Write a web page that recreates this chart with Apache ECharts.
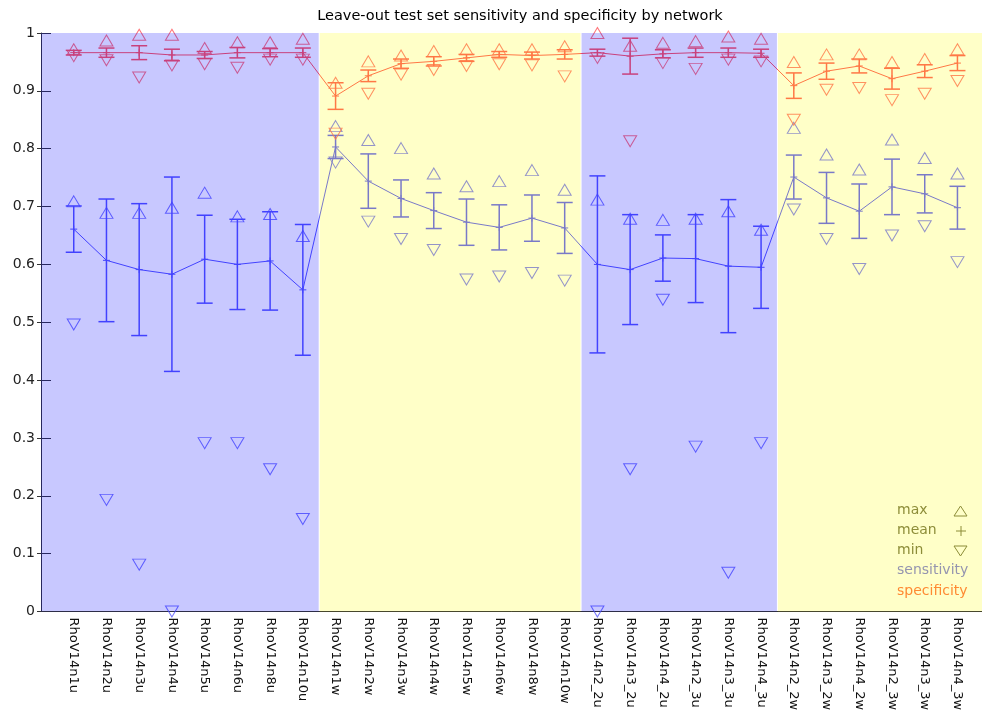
<!DOCTYPE html>
<html>
<head>
<meta charset="utf-8">
<script src="https://cdn.jsdelivr.net/npm/echarts@6/dist/echarts.min.js"></script>
<style>
  html, body { margin: 0; padding: 0; background: #ffffff; }
  #chart { width: 982px; height: 722px; }
</style>
</head>
<body>
<div id="chart"></div>
<script>
// Networks on the x axis
const networks = ['RhoV14n1u','RhoV14n2u','RhoV14n3u','RhoV14n4u','RhoV14n5u','RhoV14n6u','RhoV14n8u','RhoV14n10u',
  'RhoV14n1w','RhoV14n2w','RhoV14n3w','RhoV14n4w','RhoV14n5w','RhoV14n6w','RhoV14n8w','RhoV14n10w',
  'RhoV14n2_2u','RhoV14n3_2u','RhoV14n4_2u','RhoV14n2_3u','RhoV14n3_3u','RhoV14n4_3u',
  'RhoV14n2_2w','RhoV14n3_2w','RhoV14n4_2w','RhoV14n2_3w','RhoV14n3_3w','RhoV14n4_3w'];

// Sensitivity: mean, standard deviation, max and min over the leave-out runs
const sensMean = [0.661,0.607,0.591,0.583,0.609,0.600,0.606,0.556, 0.803,0.744,0.714,0.693,0.673,0.664,0.680,0.663,
  0.600,0.591,0.611,0.610,0.597,0.595, 0.751,0.715,0.692,0.734,0.722,0.698];
const sensStd = [0.040,0.106,0.114,0.168,0.076,0.078,0.085,0.113, 0.020,0.047,0.032,0.031,0.040,0.039,0.040,0.044,
  0.153,0.095,0.040,0.076,0.115,0.071, 0.038,0.044,0.047,0.048,0.033,0.037];
const sensMax = [0.709,0.689,0.689,0.698,0.724,0.683,0.687,0.649, 0.839,0.815,0.801,0.757,0.735,0.744,0.763,0.729,
  0.712,0.679,0.677,0.679,0.692,0.660, 0.836,0.790,0.764,0.816,0.784,0.757];
const sensMin = [0.496,0.193,0.081,0.000,0.291,0.291,0.246,0.160, 0.776,0.674,0.644,0.625,0.574,0.579,0.585,0.572,
  0.000,0.246,0.539,0.285,0.067,0.291, 0.695,0.644,0.592,0.650,0.666,0.604];

// Specificity: mean, standard deviation, max and min
const specMean = [0.966,0.966,0.966,0.962,0.962,0.966,0.966,0.966, 0.891,0.926,0.947,0.951,0.957,0.963,0.961,0.963,
  0.966,0.960,0.964,0.966,0.966,0.965, 0.909,0.934,0.943,0.921,0.934,0.948];
const specStd = [0.004,0.008,0.012,0.010,0.006,0.009,0.007,0.008, 0.023,0.010,0.008,0.008,0.006,0.005,0.006,0.008,
  0.006,0.031,0.007,0.008,0.008,0.007, 0.022,0.014,0.012,0.018,0.011,0.013];
const specMax = [0.972,0.987,0.997,0.997,0.974,0.984,0.984,0.990, 0.914,0.951,0.961,0.969,0.972,0.972,0.972,0.977,
  1.000,0.978,0.983,0.986,0.994,0.990, 0.950,0.963,0.963,0.950,0.955,0.972];
const specMin = [0.960,0.953,0.923,0.944,0.946,0.940,0.954,0.954, 0.826,0.895,0.928,0.936,0.943,0.946,0.944,0.925,
  0.957,0.813,0.948,0.938,0.954,0.951, 0.850,0.902,0.905,0.884,0.895,0.917];

// Shaded groups: [from, to, kind] with kind 0 = u-networks (blue), 1 = w-networks (yellow)
const X_MAX = 28.75;
const groups = [[0, 8.5, 0], [8.5, 16.5, 1], [16.5, 22.5, 0], [22.5, X_MAX, 1]];

const yTicks = [0, 0.1, 0.2, 0.3, 0.4, 0.5, 0.6, 0.7, 0.8, 0.9, 1];

const SENS = '#5555ff';
const SPEC = '#ff5359';
const FONT = 'DejaVu Sans';

const pts = arr => arr.map((v, i) => [i + 1, v]);
const errData = (m, s) => m.map((v, i) => [i + 1, v, s[i]]);

function errorBars(color) {
  return function (params, api) {
    const x = api.value(0), m = api.value(1), s = api.value(2);
    const hi = api.coord([x, m + s]);
    const lo = api.coord([x, m - s]);
    const hw = 8;
    const st = { stroke: color, lineWidth: 1.5 };
    return {
      type: 'group',
      children: [
        { type: 'line', shape: { x1: hi[0], y1: hi[1], x2: lo[0], y2: lo[1] }, style: st },
        { type: 'line', shape: { x1: hi[0] - hw, y1: hi[1], x2: hi[0] + hw, y2: hi[1] }, style: st },
        { type: 'line', shape: { x1: lo[0] - hw, y1: lo[1], x2: lo[0] + hw, y2: lo[1] }, style: st }
      ]
    };
  };
}

const PLUS = 'path://M0,5L10,5M5,0L5,10';

function triSeries(name, data, color, down) {
  return {
    name, type: 'scatter', data: pts(data),
    symbol: 'triangle', symbolSize: [13, 11], symbolRotate: down ? 180 : 0,
    itemStyle: { color: 'transparent', borderColor: color, borderWidth: 1 },
    z: 4, silent: true
  };
}

function meanSeries(name, data, color) {
  return {
    name, type: 'line', data: pts(data),
    symbol: PLUS, symbolSize: 7, showAllSymbol: true,
    lineStyle: { color, width: 1 },
    itemStyle: { color, borderColor: color, borderWidth: 1 },
    z: 3, silent: true, animation: false
  };
}

const chart = echarts.init(document.getElementById('chart'));
chart.setOption({
  animation: false,
  backgroundColor: '#ffffff',
  title: {
    text: 'Leave-out test set sensitivity and specificity by network',
    left: 515, top: 4, textAlign: 'center',
    textStyle: { fontFamily: FONT, fontSize: 14.5, fontWeight: 'normal', color: '#000' }
  },
  grid: { left: 41, right: 0, top: 33, bottom: 110.5 },
  xAxis: [{
    type: 'value', min: 0, max: X_MAX, interval: 1, position: 'bottom',
    axisLine: { show: true, lineStyle: { color: '#333', width: 1 } },
    axisTick: { show: false },
    splitLine: { show: false },
    axisLabel: {
      rotate: -90, margin: 6, fontFamily: FONT, fontSize: 13, color: '#111',
      showMaxLabel: false,
      formatter: v => networks[v - 1] || ''
    }
  }, {
    type: 'value', min: 0, max: X_MAX, position: 'top',
    axisLine: { show: true, lineStyle: { color: '#333', width: 1 } },
    axisTick: { show: false }, axisLabel: { show: false }, splitLine: { show: false }
  }],
  yAxis: [{
    type: 'value', min: 0, max: 1, interval: 0.1,
    axisLine: { show: true, lineStyle: { color: '#333', width: 1 } },
    axisTick: { show: true, inside: true, length: 10, lineStyle: { color: '#333' } },
    splitLine: { show: false },
    axisLabel: {
      margin: 6, fontFamily: FONT, fontSize: 14, color: '#222',
      formatter: v => String(yTicks[Math.round(v * 10)])
    }
  }, {
    type: 'value', min: 0, max: 1, interval: 0.1, position: 'right',
    axisLine: { show: false },
    axisTick: { show: true, inside: true, length: 4, lineStyle: { color: '#333' } },
    axisLabel: { show: false }, splitLine: { show: false }
  }],
  series: [
    {
      name: 'sensitivity error', type: 'custom', data: errData(sensMean, sensStd),
      encode: { x: 0, y: 1 }, renderItem: errorBars(SENS), z: 2, silent: true
    },
    {
      name: 'specificity error', type: 'custom', data: errData(specMean, specStd),
      encode: { x: 0, y: 1 }, renderItem: errorBars(SPEC), z: 2, silent: true
    },
    meanSeries('sensitivity mean', sensMean, SENS),
    meanSeries('specificity mean', specMean, SPEC),
    triSeries('sensitivity max', sensMax, SENS, false),
    triSeries('sensitivity min', sensMin, SENS, true),
    triSeries('specificity max', specMax, SPEC, false),
    triSeries('specificity min', specMin, SPEC, true),
    {
      // translucent group shading laid over the data
      name: 'groups', type: 'custom', data: groups, silent: true, z: 10,
      encode: { x: [0, 1] },
      renderItem: function (params, api) {
        const a = api.coord([api.value(0), 1]);
        const b = api.coord([api.value(1), 0]);
        const x0 = a[0] + (api.value(0) > 0 ? 0.5 : 0);
        const x1 = b[0] - (api.value(1) < X_MAX ? 0.5 : 0);
        const fill = api.value(2) === 0 ? 'rgba(0,0,255,0.216)' : 'rgba(255,255,0,0.216)';
        return { type: 'rect', shape: { x: x0, y: a[1], width: x1 - x0, height: b[1] - a[1] }, style: { fill } };
      }
    }
  ],
  graphic: [
    { type: 'text', left: 897, top: 503, style: { text: 'max', font: '14px "DejaVu Sans"', fill: '#6e6e48' } },
    { type: 'text', left: 897, top: 523, style: { text: 'mean', font: '14px "DejaVu Sans"', fill: '#6e6e48' } },
    { type: 'text', left: 897, top: 543, style: { text: 'min', font: '14px "DejaVu Sans"', fill: '#6e6e48' } },
    { type: 'text', left: 897, top: 563, style: { text: 'sensitivity', font: '14px "DejaVu Sans"', fill: '#7878e0' } },
    { type: 'text', left: 897, top: 584, style: { text: 'specificity', font: '14px "DejaVu Sans"', fill: '#ff6a40' } },
    { type: 'polygon', shape: { points: [[954, 516], [967, 516], [960.5, 506]] }, style: { fill: 'none', stroke: '#6e6e48', lineWidth: 1 } },
    { type: 'polyline', shape: { points: [[956, 531], [966, 531]] }, style: { stroke: '#6e6e48', lineWidth: 1 } },
    { type: 'polyline', shape: { points: [[961, 526], [961, 536]] }, style: { stroke: '#6e6e48', lineWidth: 1 } },
    { type: 'polygon', shape: { points: [[954, 546], [967, 546], [960.5, 556]] }, style: { fill: 'none', stroke: '#6e6e48', lineWidth: 1 } }
  ]
});
</script>
</body>
</html>
